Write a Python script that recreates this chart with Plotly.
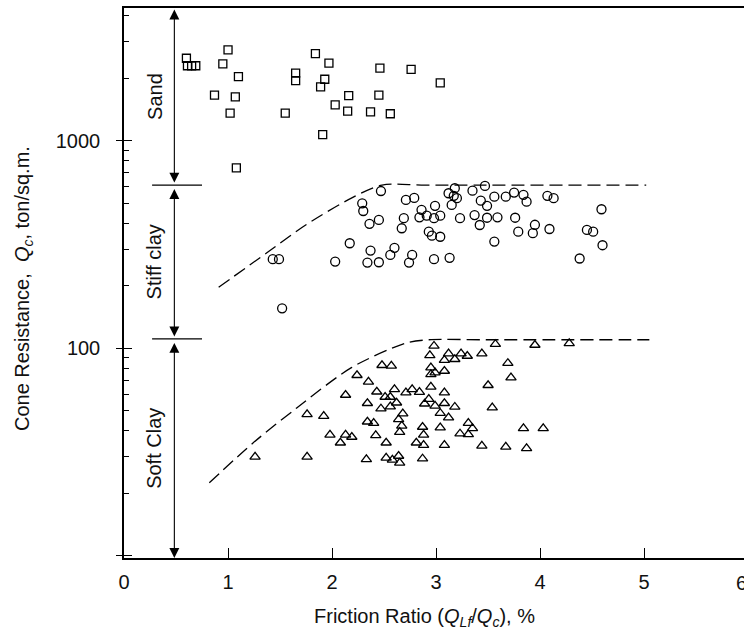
import math
import plotly.graph_objects as go

# ---------------- data ----------------
sand_x = [0.60, 0.61, 0.65, 0.69, 1.00, 0.95, 1.10, 0.87, 1.07, 1.02, 1.08, 1.55, 1.65, 1.65,
          1.84, 1.97, 1.93, 1.89, 2.03, 2.16, 2.15, 1.91, 2.37, 2.46, 2.76, 3.04, 2.45, 2.56]
sand_y = [2500, 2300, 2300, 2300, 2740, 2350, 2040, 1660, 1630, 1360, 740, 1360, 2120, 1950,
          2630, 2370, 1980, 1820, 1490, 1650, 1390, 1070, 1380, 2240, 2210, 1900, 1660, 1350]

stiff_x = [1.43, 1.49, 1.52, 2.03, 2.17, 2.29, 2.30, 2.36, 2.45, 2.47, 2.37, 2.34, 2.45, 2.56, 2.60,
           2.67, 2.69, 2.71, 2.79, 2.77, 2.74, 2.86, 2.84, 2.91, 2.98, 2.99, 2.93, 2.96, 2.98, 3.04,
           3.04, 3.13, 3.12, 3.18, 3.17, 3.20, 3.15, 3.23, 3.35, 3.37, 3.43, 3.47, 3.42, 3.49, 3.49,
           3.56, 3.59, 3.56, 3.67, 3.75, 3.76, 3.79, 3.84, 3.87, 3.95, 3.93, 4.07, 4.13, 4.09, 4.45,
           4.51, 4.59, 4.60, 4.38]
stiff_y = [269, 269, 156, 262, 321, 500, 459, 398, 416, 573, 296, 259, 260, 282, 305,
           379, 424, 519, 531, 282, 259, 465, 428, 436, 424, 486, 365, 349, 269, 345,
           436, 273, 559, 591, 543, 529, 491, 424, 575, 439, 515, 606, 393, 426, 486,
           538, 428, 327, 538, 563, 426, 365, 549, 509, 394, 359, 543, 529, 376, 372,
           365, 468, 314, 271]

soft_x = [1.26, 1.76, 1.76, 1.92, 1.98, 2.08, 2.13, 2.19, 2.13, 2.24, 2.35, 2.34, 2.34, 2.40, 2.42,
          2.52, 2.48, 2.57, 2.43, 2.51, 2.60, 2.56, 2.62, 2.56, 2.47, 2.68, 2.64, 2.67, 2.65, 2.33,
          2.52, 2.58, 2.64, 2.65, 2.71, 2.77, 2.84, 2.95, 2.93, 2.89, 2.99, 2.87, 2.88, 2.81, 2.88,
          2.87, 2.98, 2.94, 2.95, 2.95, 2.99, 3.08, 3.12, 3.08, 3.18, 3.24, 3.30, 3.44, 3.57, 3.69,
          3.72, 3.08, 3.08, 3.18, 3.04, 3.12, 3.50, 3.54, 3.31, 3.35, 3.23, 3.31, 3.04, 3.08, 3.44,
          3.67, 3.95, 4.28, 3.84, 4.03, 3.87]
soft_y = [30.0, 30.0, 48.1, 47.2, 38.3, 35.1, 38.3, 37.4, 59.6, 74.2, 68.9, 54.4, 44.3, 43.6, 38.1,
          35.1, 82.9, 82.3, 61.8, 58.3, 63.5, 58.3, 54.7, 52.4, 51.2, 48.5, 45.5, 42.3, 39.5, 29.2,
          29.7, 29.0, 30.3, 28.1, 61.2, 63.5, 61.6, 65.2, 56.9, 54.1, 52.8, 41.8, 38.3, 35.1, 34.2,
          29.4, 102.7, 92.6, 80.7, 75.0, 76.4, 77.8, 94.3, 87.7, 88.6, 94.3, 91.9, 94.3, 104.7, 84.8,
          72.3, 61.2, 54.4, 52.2, 48.7, 46.4, 66.4, 51.8, 43.6, 41.2, 38.8, 38.5, 41.5, 34.2, 33.9,
          33.5, 103.8, 105.8, 41.2, 41.2, 33.0]

# dashed upper-bound curves
stiff_line_x = [0.91, 1.37, 1.75, 2.19, 2.48, 2.90, 5.02]
stiff_line_y = [197, 288, 394, 531, 612, 612, 612]
soft_line_x = [0.82, 1.24, 1.66, 2.19, 2.71, 2.93, 3.50, 5.05]
soft_line_y = [22.5, 35, 51.6, 81, 106, 110, 110, 110]

# zone boundaries (top of axis, sand/stiff, stiff/soft, bottom of axis)
zone_edges = [4365, 612, 111, 9.77]
zone_names = ["Sand", "Stiff clay", "Soft Clay"]

x_ticks = [0, 1, 2, 3, 4, 5]
y_major = [10, 100, 1000]
y_major_text = ["", "100", "1000"]
y_minor = [20, 30, 40, 50, 60, 70, 80, 90, 200, 300, 400, 500, 600, 700, 800, 900, 2000, 3000, 4000]

x_title = "Friction Ratio (<i>Q<sub>Lf</sub></i>/<i>Q<sub>c</sub></i>), %"
y_title = "Cone Resistance,  <i>Q<sub>c</sub></i>, ton/sq.m."

FONT = "Liberation Sans, Arial, Helvetica, sans-serif"
INK = "#111111"

fig = go.Figure()

mk_line = dict(color="black", width=1.3)
fig.add_trace(go.Scatter(x=sand_x, y=sand_y, mode="markers",
                         marker=dict(symbol="square-open", size=8, color="black", line=mk_line)))
fig.add_trace(go.Scatter(x=stiff_x, y=stiff_y, mode="markers",
                         marker=dict(symbol="circle-open", size=9, color="black", line=mk_line)))
fig.add_trace(go.Scatter(x=soft_x, y=soft_y, mode="markers",
                         marker=dict(symbol="triangle-up-open", size=9, color="black", line=mk_line)))

for lx, ly in [(stiff_line_x, stiff_line_y), (soft_line_x, soft_line_y)]:
    fig.add_trace(go.Scatter(x=lx, y=ly, mode="lines",
                             line=dict(color="black", width=1.3, dash="13px,6px",
                                       shape="spline", smoothing=0.8)))

# bracket horizontal ticks
brk_x0, brk_x1, brk_xc, lab_x = 0.27, 0.75, 0.484, 0.292
for yv in zone_edges[1:3]:
    fig.add_trace(go.Scatter(x=[brk_x0, brk_x1], y=[yv, yv], mode="lines",
                             line=dict(color="black", width=1.2)))

# dummy trace for the overlay axis (inner half of major ticks)
fig.add_trace(go.Scatter(x=[None], y=[None], yaxis="y2", mode="markers"))

annotations = []
L = math.log10
gap = 0.012
for i, name in enumerate(zone_names):
    top, bot = L(zone_edges[i]), L(zone_edges[i + 1])
    t_tip = top if i == 0 else top - gap
    b_tip = bot if i == 2 else bot + gap
    annotations.append(dict(x=brk_xc, y=b_tip, ax=brk_xc, ay=t_tip, xref="x", yref="y",
                            axref="x", ayref="y", text="", showarrow=True,
                            arrowside="end+start", arrowhead=2, arrowsize=1.8,
                            arrowwidth=1.1, arrowcolor="black", standoff=0, startstandoff=0))
    annotations.append(dict(x=lab_x, y=(top + bot) / 2, xref="x", yref="y", text=name,
                            textangle=-90, showarrow=False, xanchor="center", yanchor="middle",
                            font=dict(family=FONT, size=20, color=INK)))

# the cut-off "6" tick label at the right edge
annotations.append(dict(x=1.0, y=0, xref="paper", yref="paper", text="6", showarrow=False,
                        xanchor="center", yanchor="top", yshift=-12, xshift=-3,
                        font=dict(family=FONT, size=20, color=INK)))
# axis titles
annotations.append(dict(x=0.484, y=-0.109, xref="paper", yref="paper", text=x_title,
                        showarrow=False, xanchor="center", yanchor="middle",
                        font=dict(family=FONT, size=20, color=INK)))
annotations.append(dict(x=-0.162, y=0.49, xref="paper", yref="paper", text=y_title,
                        textangle=-90, showarrow=False, xanchor="center", yanchor="middle",
                        font=dict(family=FONT, size=20, color=INK)))

fig.update_layout(
    width=744, height=636,
    margin=dict(l=124, r=0, t=8, b=78),
    plot_bgcolor="white", paper_bgcolor="white",
    showlegend=False,
    font=dict(family=FONT, size=20, color=INK),
    annotations=annotations,
    xaxis=dict(range=[0, 5.96], tickvals=x_ticks, ticks="inside", ticklen=10, tickwidth=1.3,
               tickcolor="black", showline=True, linewidth=1.5, linecolor="black", mirror=True,
               showgrid=False, zeroline=False, ticklabelstandoff=5,
               tickfont=dict(family=FONT, size=20, color=INK)),
    yaxis=dict(type="log", range=[L(zone_edges[3]), L(zone_edges[0])],
               tickvals=y_major, ticktext=y_major_text, ticks="outside", ticklen=6,
               tickwidth=1.3, tickcolor="black",
               minor=dict(tickvals=y_minor, ticks="inside", ticklen=5, tickwidth=1.2,
                          tickcolor="black", showgrid=False),
               showline=True, linewidth=1.5, linecolor="black", mirror=False,
               showgrid=False, zeroline=False, ticklabelstandoff=12,
               tickfont=dict(family=FONT, size=20, color=INK)),
    yaxis2=dict(type="log", overlaying="y", anchor="x", side="left",
                range=[L(zone_edges[3]), L(zone_edges[0])],
                tickvals=y_major, showticklabels=False, ticks="inside", ticklen=8,
                tickwidth=1.3, tickcolor="black", showline=False, showgrid=False,
                zeroline=False),
)

fig.write_html("out.html")
